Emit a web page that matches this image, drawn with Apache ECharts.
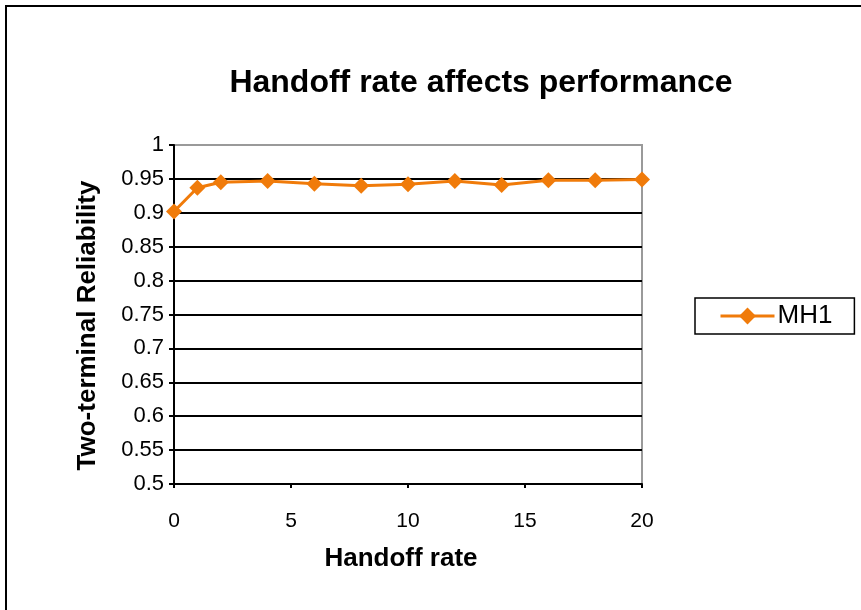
<!DOCTYPE html>
<html>
<head>
<meta charset="utf-8">
<script src="https://cdn.jsdelivr.net/npm/echarts@6/dist/echarts.min.js"></script>
<style>
  html, body { margin: 0; padding: 0; background: #fff; }
  #chart { width: 861px; height: 610px; }
</style>
</head>
<body>
<div id="chart"></div>
<script>
// Handoff rate values on the x axis
const handoffRates = [0, 1, 2, 4, 6, 8, 10, 12, 14, 16, 18, 20];
// Two-terminal reliability for MH1
const mh1Reliability = [0.902, 0.937, 0.945, 0.947, 0.943, 0.940, 0.942, 0.947, 0.941, 0.948, 0.948, 0.949];
const seriesName = 'MH1';

const chart = echarts.init(document.getElementById('chart'));
const font = '"Liberation Sans", Arial, sans-serif';
const orange = '#F07B0A';

// horizontal grid lines: black, topmost one gray (plot border)
const splitColors = [];
for (let i = 0; i < 10; i++) splitColors.push('#000');
splitColors.push('#9a9a9a');

chart.setOption({
  backgroundColor: '#fff',
  animation: false,
  title: {
    text: 'Handoff rate affects performance',
    left: 476, top: 62, textAlign: 'center',
    textStyle: { fontFamily: font, fontSize: 32, fontWeight: 'bold', color: '#000' }
  },
  graphic: [{
    type: 'rect',
    shape: { x: 6, y: 6, width: 900, height: 700 },
    style: { fill: 'none', stroke: '#000', lineWidth: 2 },
    silent: true
  }],
  legend: {
    data: [seriesName],
    left: 695, top: 298,
    padding: [5, 22, 5, 24],
    borderColor: '#000', borderWidth: 1.5,
    itemWidth: 54, itemHeight: 21,
    lineStyle: { width: 3 },
    textStyle: { fontFamily: font, fontSize: 26, color: '#000', padding: [0, 0, 0, -2] }
  },
  grid: {
    left: 174, top: 145, width: 468, height: 339,
    show: true, borderColor: '#9a9a9a', borderWidth: 2
  },
  xAxis: {
    type: 'value', min: 0, max: 20, interval: 5,
    name: 'Handoff rate', nameLocation: 'middle', nameGap: 62,
    nameTextStyle: { fontFamily: font, fontSize: 26, fontWeight: 'bold', color: '#000', padding: [0, 14, 0, 0] },
    axisLine: { lineStyle: { color: '#000', width: 2 } },
    axisTick: { show: true, length: 4, lineStyle: { color: '#000', width: 2 } },
    axisLabel: { fontFamily: font, fontSize: 21, color: '#000', margin: 27 },
    splitLine: { show: false }
  },
  yAxis: {
    type: 'value', min: 0.5, max: 1, interval: 0.05,
    name: 'Two-terminal Reliability', nameLocation: 'middle', nameGap: 73,
    nameTextStyle: { fontFamily: font, fontSize: 26, fontWeight: 'bold', color: '#000', padding: [0, 22, 0, 0] },
    axisLine: { show: true, lineStyle: { color: '#000', width: 2 } },
    axisTick: { show: true, inside: false, length: 5, lineStyle: { color: '#000', width: 2 } },
    axisLabel: { fontFamily: font, fontSize: 22, color: '#000', margin: 10 },
    splitLine: { show: true, lineStyle: { color: splitColors, width: 2 } }
  },
  series: [{
    name: seriesName,
    type: 'line',
    data: handoffRates.map((x, i) => [x, mh1Reliability[i]]),
    symbol: 'diamond', symbolSize: 16,
    lineStyle: { color: orange, width: 3 },
    itemStyle: { color: orange },
    clip: false
  }]
});
</script>
</body>
</html>
